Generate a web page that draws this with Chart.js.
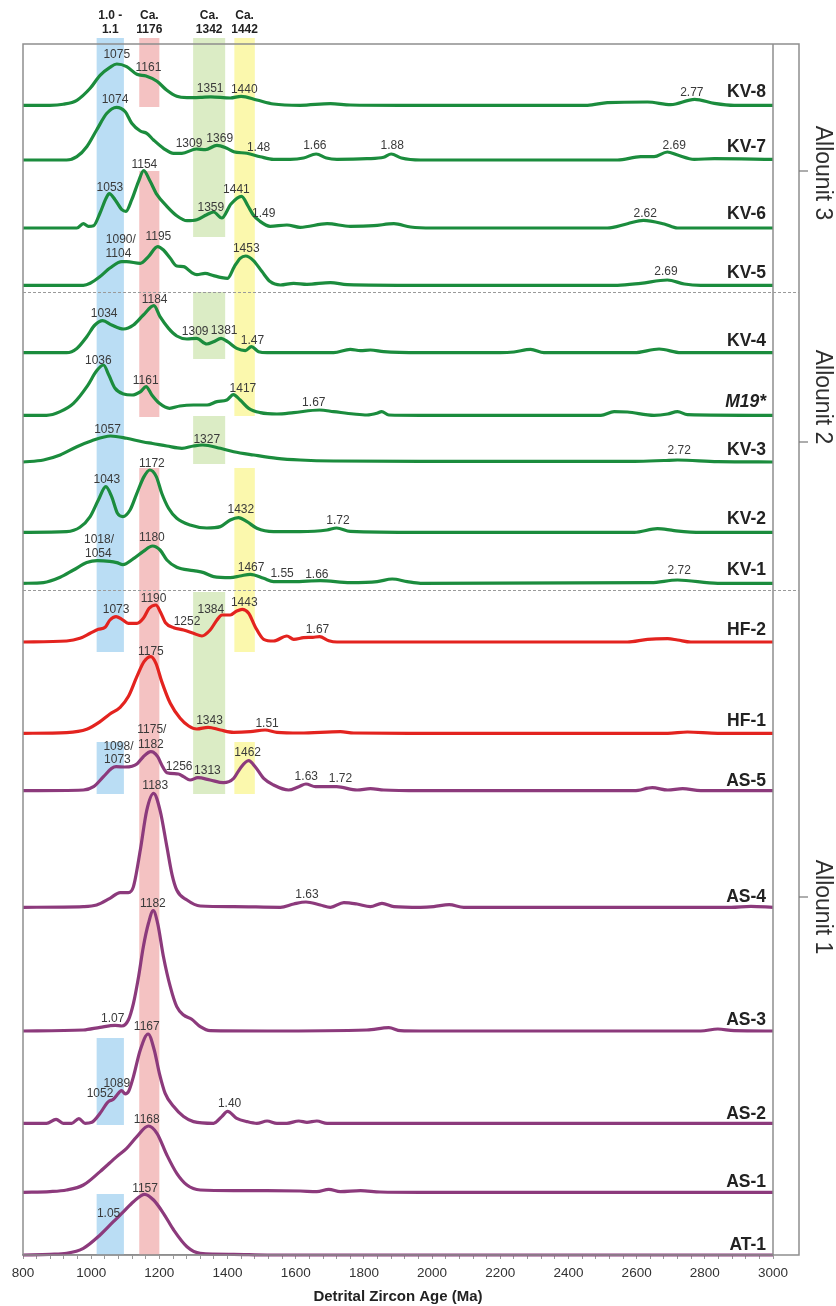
<!DOCTYPE html>
<html>
<head>
<meta charset="utf-8">
<script src="https://cdn.jsdelivr.net/npm/chart.js@4.4.1/dist/chart.umd.min.js"></script>
<style>
  html, body { margin: 0; padding: 0; background: #fff; }
  canvas { display: block; }
</style>
</head>
<body>
<canvas id="chart" width="836" height="1306" style="width:836px;height:1306px"></canvas>
<script>
// ---- Probability density curves: [age (Ma), relative density] ----
const KV8 = [[800,0],[879,0],[918,1],[958,5],[997,17],[1026,30],[1055,38],[1075,41.3],[1104,38.7],[1134,31],[1161,29.3],[1193,24],[1222,15],[1251,9],[1281,7.7],[1320,8],[1351,8.5],[1408,7.3],[1440,9],[1486,5.3],[1535,1.3],[1613,0],[1702,1.7],[1760,0.3],[1907,0],[2456,0],[2514,2.7],[2632,3.3],[2700,0.7],[2770,6],[2828,2],[2886,0],[3000,0]];
const KV7 = [[800,0],[928,0],[958,3.3],[987,13.3],[1016,30],[1046,46.7],[1074,52.7],[1100,48.3],[1119,36.7],[1144,29],[1163,26.7],[1183,20],[1212,11.7],[1242,6.7],[1266,6.7],[1309,11],[1335,10.3],[1369,14.7],[1398,11.7],[1418,8.3],[1457,6.7],[1496,3.3],[1535,0.7],[1584,0.7],[1623,2],[1660,6],[1690,2],[1721,0.7],[1809,1.3],[1858,2.7],[1880,6],[1910,2],[1966,0],[2544,0],[2612,3.3],[2651,3.3],[2690,8],[2720,5],[2769,0.7],[2828,1.3],[3000,0.7]];
const KV6 = [[800,0],[958,0],[977,4.3],[992,1.7],[1007,2.3],[1026,15],[1044,30],[1053,34.3],[1070,28.3],[1090,18.3],[1102,16.7],[1119,28.3],[1139,46.7],[1154,57.3],[1173,46.7],[1193,33.3],[1222,21.7],[1251,12.3],[1281,7.3],[1310,8.3],[1339,13.3],[1359,16],[1383,10],[1410,24],[1441,31.7],[1460,22],[1475,13.3],[1495,6.7],[1525,1.7],[1574,3],[1613,0.7],[1692,4.3],[1760,1.7],[1829,2.3],[1888,4.3],[1937,1],[2000,0],[2514,0],[2573,4.3],[2620,7.7],[2681,4],[2720,0],[3000,0]];
const KV5 = [[800,0],[977,0],[997,2],[1026,8.7],[1055,17.3],[1090,23.7],[1104,23.7],[1144,22],[1168,28.7],[1195,38.7],[1212,35.3],[1232,27],[1251,19.3],[1271,18.7],[1295,12.7],[1310,10.7],[1334,12],[1359,9.7],[1383,7.7],[1400,7],[1420,18.7],[1437,27],[1453,29.3],[1476,24.7],[1501,13.7],[1525,3.7],[1555,0.3],[1594,2],[1633,1],[1702,2.7],[1751,0.7],[1966,0],[2544,0],[2612,2],[2690,5.3],[2740,1.3],[2788,0],[3000,0]];
const KV4 = [[800,0],[928,0],[958,4.3],[987,16],[1011,27.7],[1034,32],[1060,27.7],[1095,23.7],[1124,27.7],[1153,37.7],[1184,47],[1202,36],[1227,24.3],[1251,16.7],[1281,13.7],[1309,14.3],[1339,8.7],[1359,11],[1381,14.3],[1400,11],[1427,4.3],[1452,2],[1470,6],[1491,1],[1516,0],[1711,0],[1760,3.3],[1790,2],[1819,2.7],[1858,1],[1966,0],[2200,0],[2240,0.7],[2289,3.3],[2328,0],[2593,0],[2666,3.7],[2730,0],[3000,0]];
const M19 = [[800,0],[869,0],[909,3.7],[948,12],[990,30],[1015,44],[1036,50.3],[1052,40],[1070,27],[1095,21.3],[1120,20.3],[1145,23.7],[1161,28.7],[1178,20.3],[1200,12],[1230,7],[1260,9.3],[1300,10.3],[1340,10.3],[1369,13.7],[1398,15.3],[1417,20.7],[1437,15.3],[1462,7],[1496,2.7],[1545,1.3],[1594,2.7],[1670,5.3],[1711,3.7],[1770,1.3],[1809,0.3],[1838,2],[1852,3.7],[1873,0.3],[1966,0],[2495,0],[2534,3.7],[2573,3.3],[2651,0],[2691,1.3],[2720,3.7],[2749,0.7],[3000,0]];
const KV3 = [[800,0],[860,2],[909,7],[958,15.3],[1000,21],[1057,26],[1104,23.7],[1153,20],[1180,18.5],[1222,16],[1266,13.7],[1300,16],[1327,17],[1379,13.7],[1418,10.3],[1477,7],[1545,3.7],[1613,2],[1711,1],[1966,0.7],[2593,0.7],[2680,1.5],[2720,2],[2838,0.3],[3000,0]];
const KV2 = [[800,0],[928,0.7],[967,5],[997,15.7],[1021,32.3],[1043,45.7],[1060,35.7],[1077,19],[1093,15.7],[1114,22.3],[1134,39],[1155,55.7],[1172,62.3],[1191,55.7],[1207,39],[1227,24],[1251,14],[1290,7.3],[1339,4.3],[1379,5.7],[1408,12.3],[1432,14.7],[1457,10.7],[1486,4],[1535,0.7],[1613,0.7],[1692,2.3],[1720,4.3],[1760,1],[1966,0],[2593,0],[2661,3.7],[2710,1.7],[2788,0],[3000,0]];
const KV1 = [[800,0],[860,0.7],[909,6],[948,13.3],[987,20.7],[1018,22.7],[1054,22],[1075,20.7],[1093,18.7],[1124,24.7],[1153,32],[1180,37.3],[1202,33.3],[1222,23.3],[1251,16],[1300,12.7],[1330,10.7],[1359,6.7],[1408,5.7],[1437,7.3],[1467,9],[1506,5],[1535,1.7],[1594,1.7],[1672,2.7],[1760,0.7],[1839,1.7],[1883,4.3],[1927,1.7],[1966,0],[2642,0.7],[2720,3.3],[2838,0],[3000,0]];
const HF2 = [[800,0],[928,1],[967,3.7],[997,8.7],[1021,12.7],[1041,14.7],[1055,22],[1073,25.3],[1090,22.7],[1109,18.7],[1134,18.7],[1153,23.7],[1170,33.7],[1190,37],[1203,30],[1218,19.3],[1242,14.3],[1271,12],[1300,8.7],[1325,6],[1349,12],[1369,22],[1384,27],[1408,27],[1427,31],[1443,32.7],[1462,28.7],[1481,15.3],[1506,2.7],[1535,1],[1574,6],[1594,2.7],[1623,4.3],[1650,4.7],[1670,5.3],[1697,1.3],[1721,0],[1966,0],[2573,0],[2632,2.7],[2691,3.3],[2720,2],[2759,0],[3000,0]];
const HF1 = [[800,0],[928,0.7],[987,4],[1026,11.7],[1055,19.3],[1085,26],[1109,36.7],[1134,56.7],[1155,71.7],[1175,76.7],[1190,70],[1207,51.7],[1232,30],[1261,15],[1286,7.3],[1310,4.3],[1343,6],[1379,3.3],[1418,1],[1467,1.7],[1510,3.3],[1545,1],[1613,0.3],[1731,1.7],[1770,0.3],[1966,0],[2691,0],[2749,1.3],[2838,0],[3000,0]];
const AS5 = [[800,0],[977,0.7],[1007,4],[1036,14],[1060,22.3],[1073,24],[1098,23.7],[1120,24.5],[1135,27],[1153,34],[1175,39],[1182,38.5],[1195,34],[1207,25.7],[1222,18],[1256,16.7],[1271,14],[1290,10.7],[1313,13],[1349,10.7],[1388,8],[1418,12.3],[1437,22.3],[1462,30],[1481,24],[1506,12.3],[1535,5.7],[1579,0.7],[1609,4],[1630,6.7],[1658,4],[1702,4],[1720,4],[1780,0.7],[1819,2],[1858,0.7],[1966,0],[2593,0],[2646,3],[2691,0.7],[2735,2],[2788,0],[3000,0]];
const AS4 = [[800,0],[977,0.7],[1016,2.3],[1055,9],[1085,14.7],[1109,14.7],[1124,20.7],[1144,57],[1163,97],[1183,114],[1202,97],[1222,60.7],[1237,33],[1251,17.3],[1281,7.3],[1320,1.3],[1418,0.7],[1555,0],[1594,3.3],[1630,5.3],[1672,2.3],[1702,0],[1741,4.7],[1780,3.3],[1819,0.7],[1853,4],[1888,0.7],[1966,0],[2005,0.7],[2050,2.7],[2093,0],[2877,0],[2935,1],[3000,0]];
const AS3 = [[800,0],[977,1],[1026,3.7],[1070,5.7],[1090,5],[1109,11],[1124,27.7],[1139,54.3],[1153,84.3],[1168,107.7],[1182,120.3],[1195,107.7],[1212,74.3],[1232,44.3],[1251,24.3],[1271,16],[1295,11.7],[1320,4.3],[1349,0.3],[1516,0],[1809,1],[1873,3.3],[1907,0.3],[1966,0],[2788,0],[2838,2],[2886,0.3],[3000,0]];
const AS2 = [[800,0],[869,0],[897,4],[918,0],[943,0],[964,4.7],[982,0],[1002,1],[1026,10],[1046,20],[1052,22],[1065,24],[1075,28],[1089,32.7],[1100,29.5],[1110,32],[1124,46.7],[1144,73.3],[1167,89.3],[1185,73.3],[1200,50],[1217,30],[1242,16.7],[1271,6.7],[1300,1.7],[1359,0],[1383,6.7],[1400,12],[1427,5],[1457,1.7],[1486,0],[1516,2.3],[1545,0],[1574,0],[1609,2.3],[1633,1],[1662,2.3],[1692,0],[3000,0]];
const AS1 = [[800,0],[879,0.7],[928,2.3],[977,7.3],[1026,20.7],[1075,35.7],[1104,44],[1134,55.7],[1168,66.3],[1193,59],[1222,37.3],[1251,19],[1281,7.3],[1320,2.3],[1418,1.7],[1516,1.7],[1613,1.3],[1662,0.7],[1697,3],[1731,0.7],[1790,1.7],[1848,0.3],[1966,0],[3000,0]];
const AT1 = [[800,0],[879,0.7],[928,1.7],[977,6.7],[1026,20],[1065,33.3],[1095,43.3],[1124,53.3],[1157,60.7],[1183,55],[1212,41.7],[1242,25],[1281,8.3],[1320,1.7],[1418,0.7],[1516,0],[3000,0]];

// ---- Peak annotations: [text, age, height above the curve's baseline] ----
const KV8_PEAKS = [['1075',1075,50.3],['1161',1168,37.6],['1351',1349,17],['1440',1449,16],['2.77',2762,12.6]];
const KV7_PEAKS = [['1074',1070,60],['1309',1287,16],['1369',1377,21.7],['1.48',1491,12.7],['1.66',1656,14],['1.88',1883,14],['2.69',2710,14.7]];
const KV6_PEAKS = [['1154',1156,63.7],['1053',1055,40.3],['1359',1351,20.7],['1441',1426,38.7],['1.49',1506,14.7],['2.62',2625,14.7]];
const KV5_PEAKS = [['1090/',1087,46],['1104',1080,32],['1195',1197,48.7],['1453',1455,37],['2.69',2686,13.7]];
const KV4_PEAKS = [['1034',1038,38.7],['1184',1186,53.3],['1309',1305,21],['1381',1390,21.7],['1.47',1473,11.7]];
const M19_PEAKS = [['1036',1021,54.7],['1161',1160,34.7],['1417',1445,27],['1.67',1653,12.7]];
const KV3_PEAKS = [['1057',1048,32],['1327',1339,22.7],['2.72',2725,11]];
const KV2_PEAKS = [['1043',1046,52.3],['1172',1178,69],['1432',1439,22.3],['1.72',1724,11.7]];
const KV1_PEAKS = [['1018/',1023,44],['1054',1021,30],['1180',1178,45.7],['1467',1469,16],['1.55',1560,9.3],['1.66',1662,8.7],['2.72',2725,12.3]];
const HF2_PEAKS = [['1073',1073,32],['1190',1183,43.7],['1252',1281,20.3],['1384',1351,32.7],['1443',1449,39.7],['1.67',1664,12]];
const HF1_PEAKS = [['1175',1175,82],['1343',1347,12.7],['1.51',1516,10]];
const AS5_PEAKS = [['1098/',1080,44],['1073',1077,31.3],['1175/',1178,60.7],['1182',1175,45.7],['1256',1258,24],['1313',1341,20],['1462',1459,38],['1.63',1631,14],['1.72',1731,12.3]];
const AS4_PEAKS = [['1183',1188,121.3],['1.63',1633,12.3]];
const AS3_PEAKS = [['1182',1181,127.7],['1.07',1063,12.7]];
const AS2_PEAKS = [['1167',1163,96.7],['1089',1075,40],['1052',1026,30],['1.40',1406,20]];
const AS1_PEAKS = [['1168',1163,73]];
const AT1_PEAKS = [['1157',1158,66],['1.05',1051,41]];

const sampleNames = ['KV-8','KV-7','KV-6','KV-5','KV-4','M19*','KV-3','KV-2','KV-1','HF-2','HF-1','AS-5','AS-4','AS-3','AS-2','AS-1','AT-1'];
const sampleCurves = [KV8, KV7, KV6, KV5, KV4, M19, KV3, KV2, KV1, HF2, HF1, AS5, AS4, AS3, AS2, AS1, AT1];
const samplePeaks = [KV8_PEAKS, KV7_PEAKS, KV6_PEAKS, KV5_PEAKS, KV4_PEAKS, M19_PEAKS, KV3_PEAKS, KV2_PEAKS, KV1_PEAKS, HF2_PEAKS, HF1_PEAKS, AS5_PEAKS, AS4_PEAKS, AS3_PEAKS, AS2_PEAKS, AS1_PEAKS, AT1_PEAKS];
const allounits = ['Allounit 3', 'Allounit 2', 'Allounit 1'];

// Reference age windows shaded behind the curves
const ageWindows = [
  { head: ['1.0 -', '1.1'], from: 1016, to: 1096 },
  { head: ['Ca.', '1176'], from: 1141, to: 1200 },
  { head: ['Ca.', '1342'], from: 1299, to: 1393 },
  { head: ['Ca.', '1442'], from: 1420, to: 1480 }
];

// ---- Layout & style ----
const FONT = "'Liberation Sans', Arial, Helvetica, sans-serif";
const GREEN = '#1b8c3d', RED = '#e3231f', PURPLE = '#8c3a7c';
const sampleColor = ['g','g','g','g','g','g','g','g','g','r','r','p','p','p','p','p','p'].map(c => c === 'g' ? GREEN : c === 'r' ? RED : PURPLE);
// vertical offset of each curve's baseline on the stacked axis (0 = bottom of the plot)
const stackBase = [1149.7, 1095, 1027, 969.7, 902.3, 839.7, 793, 722.7, 671.7, 613, 521.7, 464.3, 347.7, 224, 131.7, 62.7, 0];
const nameLift = [13, 12.5, 13.5, 12.5, 12, 13.5, 12, 13.5, 13, 12, 12.5, 10, 10.5, 11, 9.5, 10.5, 9.5];
const windowFill = ['rgba(160,208,240,0.72)', 'rgba(240,170,170,0.72)', 'rgba(205,228,175,0.72)', 'rgba(250,246,150,0.78)'];
// stacked-axis spans of each shaded window: [bottom, top]
const windowSpans = [
  [[603,1217],[461,513],[130,217],[0,61]],
  [[1148,1217],[838,1084],[0,787]],
  [[1018,1217],[896,963],[791,839],[461,663]],
  [[839,1217],[603,787],[461,513]]
];
const dividers = [963.3, 665];      // allounit boundaries (dashed)
const allounitMark = [1084, 813, 358]; // side-panel tick positions
const allounitCenter = [1082, 858, 348];
const PANEL_W = 26;

const datasets = sampleCurves.map((curve, i) => ({
  label: sampleNames[i],
  data: curve.map(([age, d]) => ({ x: age, y: stackBase[i] + d })),
  borderColor: sampleColor[i],
  borderWidth: 3.2,
  pointRadius: 0,
  fill: false,
  cubicInterpolationMode: 'monotone',
  clip: false
}));

const decorations = {
  id: 'decorations',
  beforeDatasetsDraw(chart) {
    const { ctx, scales: { x, y } } = chart;
    ctx.save();
    ageWindows.forEach((w, k) => {
      ctx.fillStyle = windowFill[k];
      const x0 = x.getPixelForValue(w.from), x1 = x.getPixelForValue(w.to);
      windowSpans[k].forEach(([b, t]) => {
        const y0 = y.getPixelForValue(t), y1 = y.getPixelForValue(b);
        ctx.fillRect(x0, y0, x1 - x0, y1 - y0);
      });
    });
    ctx.restore();
  },
  afterDatasetsDraw(chart) {
    const { ctx, chartArea: a, scales: { x, y } } = chart;
    ctx.save();
    // frame with the side panel
    ctx.strokeStyle = '#8e8e8e';
    ctx.lineWidth = 1.5;
    ctx.strokeRect(a.left, a.top, a.right + PANEL_W - a.left, a.bottom - a.top);
    ctx.beginPath();
    ctx.moveTo(a.right, a.top); ctx.lineTo(a.right, a.bottom);
    ctx.stroke();
    // dashed allounit dividers
    ctx.strokeStyle = '#9a9a9a';
    ctx.lineWidth = 1;
    ctx.setLineDash([3, 2]);
    dividers.forEach(v => {
      const py = Math.round(y.getPixelForValue(v)) + 0.5;
      ctx.beginPath(); ctx.moveTo(a.left, py); ctx.lineTo(a.right + PANEL_W, py); ctx.stroke();
    });
    ctx.setLineDash([]);
    // side-panel ticks and allounit names
    ctx.strokeStyle = '#777';
    ctx.lineWidth = 1.2;
    allounitMark.forEach(v => {
      const py = y.getPixelForValue(v);
      ctx.beginPath(); ctx.moveTo(a.right + PANEL_W, py); ctx.lineTo(a.right + PANEL_W + 9, py); ctx.stroke();
    });
    ctx.fillStyle = '#2f2f2f';
    ctx.font = `23px ${FONT}`;
    ctx.textAlign = 'center';
    ctx.textBaseline = 'middle';
    allounits.forEach((t, k) => {
      ctx.save();
      ctx.translate(a.right + PANEL_W + 23, y.getPixelForValue(allounitCenter[k]));
      ctx.rotate(Math.PI / 2);
      ctx.fillText(t, 0, 0);
      ctx.restore();
    });
    // window headings
    ctx.fillStyle = '#222';
    ctx.font = `bold 12px ${FONT}`;
    ageWindows.forEach(w => {
      const cx = x.getPixelForValue((w.from + w.to) / 2);
      ctx.fillText(w.head[0], cx, 16);
      ctx.fillText(w.head[1], cx, 30);
    });
    // peak annotations
    ctx.fillStyle = '#3a3a3a';
    ctx.font = `12px ${FONT}`;
    samplePeaks.forEach((peaks, i) => {
      peaks.forEach(([t, age, h]) => {
        ctx.fillText(t, x.getPixelForValue(age), y.getPixelForValue(stackBase[i] + h));
      });
    });
    // sample names
    ctx.fillStyle = '#222';
    ctx.textAlign = 'right';
    sampleNames.forEach((n, i) => {
      ctx.font = (n === 'M19*' ? 'italic ' : '') + `bold 17.5px ${FONT}`;
      ctx.fillText(n, a.right - 7, y.getPixelForValue(stackBase[i] + nameLift[i]));
    });
    ctx.restore();
  }
};

new Chart(document.getElementById('chart'), {
  type: 'line',
  data: { datasets },
  options: {
    responsive: false,
    animation: false,
    devicePixelRatio: 1,
    layout: { padding: { left: 23, right: 63, top: 44, bottom: 0 } },
    plugins: { legend: { display: false }, tooltip: { enabled: false } },
    scales: {
      x: {
        type: 'linear',
        min: 800, max: 3000,
        ticks: {
          stepSize: 40,
          autoSkip: false,
          maxRotation: 0,
          padding: 6,
          color: '#333',
          font: { family: FONT, size: 13.5 },
          callback: v => (v % 200 === 0 ? String(v) : '')
        },
        grid: { display: true, drawOnChartArea: false, drawTicks: true, tickLength: 4, color: '#999' },
        border: { display: true, color: '#8e8e8e', width: 1.5 },
        title: {
          display: true,
          text: 'Detrital Zircon Age (Ma)',
          color: '#222',
          font: { family: FONT, size: 15, weight: 'bold' },
          padding: { top: 0, bottom: 0 }
        },
        afterFit(scale) { scale.height = 51; }
      },
      y: { type: 'linear', display: false, min: 0, max: 1211 }
    }
  },
  plugins: [decorations]
});
</script>
</body>
</html>
